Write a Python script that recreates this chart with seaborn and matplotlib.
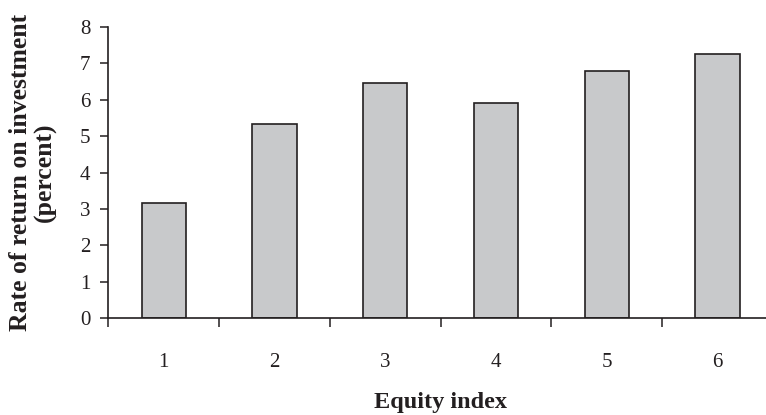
import matplotlib
matplotlib.use("Agg")
import matplotlib.pyplot as plt
import seaborn as sns
import pandas as pd
import numpy as np

categories = ["1", "2", "3", "4", "5", "6"]
values = [3.17, 5.34, 6.47, 5.90, 6.79, 7.26]
yticks = [0, 1, 2, 3, 4, 5, 6, 7, 8]

sns.set_theme(style="white")
plt.rcParams['font.family'] = ['Liberation Serif', 'DejaVu Serif']

df = pd.DataFrame({"Equity index": categories, "Rate": values})

fig = plt.figure(figsize=(7.66, 4.15), dpi=100)
ax = fig.add_axes([0.1416, 0.2337, 0.8675, 0.7012])

sns.barplot(data=df, x="Equity index", y="Rate", ax=ax, color="#C8C9CB",
            edgecolor="#231F20", linewidth=1.2, width=0.4, saturation=1)

ax.set_xlim(-0.5, len(categories) - 0.5)
ax.set_ylim(0, 8)
ax.set_yticks(yticks)
ax.set_yticklabels([str(t) for t in yticks])

# category boundaries as major ticks, labels as minor ticks
ax.set_xticks(np.arange(-0.5, len(categories), 1.0))
ax.set_xticklabels([])
ax.set_xticks(np.arange(len(categories)), minor=True)
ax.set_xticklabels(categories, minor=True)

ax.tick_params(axis="x", which="major", direction="out", length=6.5, width=1.1,
               color="#231F20", bottom=True)
ax.tick_params(axis="x", which="minor", length=0, pad=25.5, labelsize=15,
               labelcolor="#231F20", bottom=True)
ax.tick_params(axis="y", which="major", direction="out", length=6, width=1.1,
               color="#231F20", pad=7, labelsize=15, labelcolor="#231F20", left=True)

for s in ["top", "right"]:
    ax.spines[s].set_visible(False)
for s in ["left", "bottom"]:
    ax.spines[s].set_color("#231F20")
    ax.spines[s].set_linewidth(1.2)

ax.set_xlabel("Equity index", fontsize=17.5, fontweight="bold", color="#231F20")
ax.xaxis.set_label_coords(0.5, -0.292)
ax.xaxis.label.set_va("center")

ax.set_ylabel("Rate of return on investment\n(percent)", fontsize=18.5,
              fontweight="bold", color="#231F20", linespacing=1.1)
ax.yaxis.set_label_coords(-0.1136, 0.5)
ax.yaxis.label.set_va("center")

fig.savefig("out.png", dpi=100)
